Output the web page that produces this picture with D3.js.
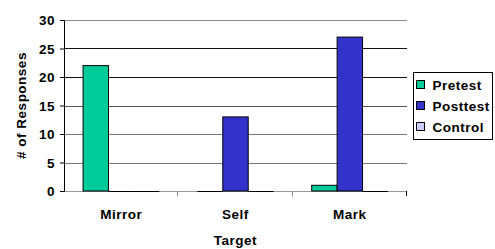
<!DOCTYPE html>
<html>
<head>
<meta charset="utf-8">
<script src="https://cdn.jsdelivr.net/npm/d3@7"></script>
<style>
  body { margin: 0; background: #fff; }
  text { font-family: "Liberation Sans", Arial, sans-serif; font-weight: bold; fill: #000; font-size: 13.5px; letter-spacing: 0.5px; }
</style>
</head>
<body>
<div id="chart"></div>
<script>
// data
const targets = ["Mirror", "Self", "Mark"];
const seriesNames = ["Pretest", "Posttest", "Control"];
const pretest = [22, 0, 1];
const posttest = [0, 13, 27];
const control = [0, 0, 0];
const yTicks = [0, 5, 10, 15, 20, 25, 30];

const colors = {"Pretest": "#00cc99", "Posttest": "#3333cc", "Control": "#ccccff"};
const gridColor = {5: "#777", 10: "#777", 15: "#555", 20: "#111", 25: "#111", 30: "#888"};

const width = 495, height = 249;
const margin = {top: 20, right: 88, bottom: 58, left: 64};
const plotW = width - margin.left - margin.right;
const plotH = height - margin.top - margin.bottom;

const svg = d3.select("#chart").append("svg")
  .attr("width", width)
  .attr("height", height);

const g = svg.append("g")
  .attr("transform", `translate(${margin.left},${margin.top})`);

const x = d3.scaleBand().domain(targets).range([0, plotW]);
const xs = d3.scaleBand().domain(seriesNames)
  .range([0, x.bandwidth()]).paddingOuter(0.75).paddingInner(0);
const y = d3.scaleLinear().domain([0, 30]).range([plotH, 0]);

// grid lines
g.append("g").selectAll("line").data(yTicks.filter(d => d > 0))
  .join("line")
  .attr("x1", 0).attr("x2", plotW)
  .attr("y1", d => Math.round(y(d)) + 0.5).attr("y2", d => Math.round(y(d)) + 0.5)
  .attr("stroke", d => gridColor[d])
  .attr("stroke-width", 1);

// x axis line (gray) with ticks at band edges
const xAxisG = g.append("g").attr("transform", `translate(0,${plotH})`);
xAxisG.append("line").attr("x1", 0).attr("x2", plotW).attr("y1", 0.5).attr("y2", 0.5).attr("stroke", "#999");
xAxisG.selectAll(".tk").data([1, 2, 3]).join("line")
  .attr("x1", d => Math.round(d * x.step()) - 0.5).attr("x2", d => Math.round(d * x.step()) - 0.5)
  .attr("y1", 0).attr("y2", 5).attr("stroke", d => d == 3 ? "#000" : "#888");
xAxisG.selectAll(".lbl").data(targets).join("text")
  .attr("x", d => x(d) + x.bandwidth() / 2)
  .attr("y", 28)
  .attr("text-anchor", "middle")
  .text(d => d);

// bars
const rows = targets.map((t, i) => ({target: t, values: [
  {name: "Pretest", v: pretest[i]},
  {name: "Posttest", v: posttest[i]},
  {name: "Control", v: control[i]}
]}));

const groups = g.selectAll(".grp").data(rows).join("g")
  .attr("class", "grp")
  .attr("transform", d => `translate(${x(d.target)},0)`);

groups.selectAll("rect").data(d => d.values.filter(v => v.v > 0)).join("rect")
  .attr("x", d => xs(d.name))
  .attr("width", xs.bandwidth())
  .attr("y", d => y(d.v))
  .attr("height", d => plotH - y(d.v))
  .attr("fill", d => colors[d.name])
  .attr("stroke", "#000")
  .attr("stroke-width", 1);

// zero-height bars show only as a dark line on the baseline
groups.selectAll(".zero").data(d => d.values.filter(v => v.v == 0)).join("line")
  .attr("class", "zero")
  .attr("x1", d => xs(d.name)).attr("x2", d => xs(d.name) + xs.bandwidth())
  .attr("y1", y(0) + 0.5).attr("y2", y(0) + 0.5)
  .attr("stroke", "#000");

// y axis
const yAxis = g.append("g")
  .call(d3.axisLeft(y).tickValues(yTicks).tickSize(4).tickPadding(5));
yAxis.select(".domain").attr("stroke", "#000");
yAxis.selectAll(".tick line").attr("stroke", "#000");
yAxis.selectAll("text")
  .style("font-size", "13.5px")
  .style("font-family", "Liberation Sans, Arial")
  .style("font-weight", "bold")
  .attr("dy", "0.36em");

// axis titles
svg.append("text")
  .attr("x", margin.left + plotW / 2)
  .attr("y", 245)
  .attr("text-anchor", "middle")
  .text("Target");

svg.append("text")
  .attr("transform", `translate(26,${margin.top + plotH / 2}) rotate(-90)`)
  .attr("text-anchor", "middle")
  .text("# of Responses");

// legend
const legend = svg.append("g").attr("transform", "translate(413.5,72.5)");
legend.append("rect").attr("width", 79).attr("height", 67)
  .attr("fill", "#fff").attr("stroke", "#000");
const items = legend.selectAll(".it").data(seriesNames).join("g")
  .attr("transform", (d, i) => `translate(3,${8 + i * 21})`);
items.append("rect").attr("width", 8).attr("height", 8)
  .attr("fill", d => colors[d]).attr("stroke", "#000");
items.append("text").attr("x", 16).attr("y", 9)
  .text(d => d);
</script>
</body>
</html>
